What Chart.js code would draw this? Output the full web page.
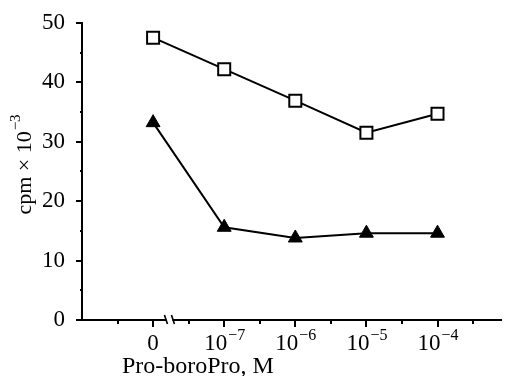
<!DOCTYPE html>
<html>
<head>
<meta charset="utf-8">
<script src="https://cdn.jsdelivr.net/npm/chart.js@4.4.0/dist/chart.umd.min.js"></script>
<style>
  html, body { margin: 0; padding: 0; background: #fff; }
  #wrap { width: 512px; height: 376px; }
</style>
</head>
<body>
<div id="wrap"><canvas id="grafico"></canvas></div>
<script>
// dados
const posicoesX = [0, 1, 2, 3, 4]
const rotulosX = ["0", "10", "10", "10", "10"]
const expoentesX = ["", "−7", "−6", "−5", "−4"]
const valoresQuadrado = [47.5, 42.2, 36.9, 31.5, 34.7]
const valoresTriangulo = [33.2, 15.6, 13.8, 14.6, 14.6]
const ticksY = [0, 10, 20, 30, 40, 50]
const ticksMenoresY = [5, 15, 25, 35, 45]
const ticksMenoresX = [-0.5, 0.5, 1.5, 2.5, 3.5, 4.5]
const tituloX = "Pro-boroPro, M"

const FONTE = "'Liberation Serif', 'Times New Roman', serif"

function pontos(valores) {
  return posicoesX.map((x, i) => ({ x: x, y: valores[i] }))
}

// desenha ticks, rótulos do eixo x com expoente, títulos e a quebra do eixo
const pluginEixos = {
  id: "eixos",
  afterDraw(chart) {
    const ctx = chart.ctx
    const sx = chart.scales.x
    const sy = chart.scales.y
    const x0 = sx.left
    const y0 = sy.bottom
    ctx.save()
    ctx.strokeStyle = "#000"
    ctx.lineWidth = 2
    ctx.beginPath()
    for (const v of ticksY) {
      const py = Math.round(sy.getPixelForValue(v))
      ctx.moveTo(x0 - 6, py)
      ctx.lineTo(x0, py)
    }
    for (const v of ticksMenoresY) {
      const py = Math.round(sy.getPixelForValue(v))
      ctx.moveTo(x0 - 2, py)
      ctx.lineTo(x0 + 1, py)
    }
    for (const v of posicoesX) {
      const px = Math.round(sx.getPixelForValue(v))
      ctx.moveTo(px, y0)
      ctx.lineTo(px, y0 + 7)
    }
    for (const v of ticksMenoresX) {
      const px = Math.round(sx.getPixelForValue(v))
      ctx.moveTo(px, y0)
      ctx.lineTo(px, y0 + 4)
    }
    ctx.stroke()

    // quebra do eixo
    const pq = sx.getPixelForValue(0.23)
    ctx.fillStyle = "#fff"
    ctx.fillRect(pq - 3, y0 - 3, 6, 6)
    ctx.lineWidth = 1.6
    ctx.beginPath()
    ctx.moveTo(pq - 5, y0 - 5)
    ctx.lineTo(pq - 2, y0 + 4)
    ctx.moveTo(pq + 2, y0 - 5)
    ctx.lineTo(pq + 5, y0 + 4)
    ctx.stroke()

    // rótulos do eixo x
    ctx.fillStyle = "#000"
    ctx.textBaseline = "alphabetic"
    const yBase = y0 + 30
    posicoesX.forEach((v, i) => {
      const px = sx.getPixelForValue(v)
      ctx.font = "23px " + FONTE
      const wBase = ctx.measureText(rotulosX[i]).width
      ctx.font = "16px " + FONTE
      const wExp = ctx.measureText(expoentesX[i]).width
      const inicio = px - (wBase + wExp) / 2
      ctx.font = "23px " + FONTE
      ctx.textAlign = "left"
      ctx.fillText(rotulosX[i], inicio, yBase)
      if (expoentesX[i]) {
        ctx.font = "16px " + FONTE
        ctx.fillText(expoentesX[i], inicio + wBase + 1, yBase - 10)
      }
    })

    // título do eixo x
    ctx.textAlign = "center"
    ctx.font = "24px " + FONTE
    ctx.fillText(tituloX, sx.getPixelForValue(0.63), y0 + 53)

    // título do eixo y
    ctx.translate(25, 165)
    ctx.rotate(-Math.PI / 2)
    ctx.font = "22px " + FONTE
    const parteA = "cpm × 10"
    const parteB = "−3"
    const wA = ctx.measureText(parteA).width
    ctx.font = "15px " + FONTE
    const wB = ctx.measureText(parteB).width
    ctx.textAlign = "left"
    ctx.textBaseline = "middle"
    ctx.font = "22px " + FONTE
    ctx.fillText(parteA, -(wA + wB) / 2, 0)
    ctx.font = "15px " + FONTE
    ctx.fillText(parteB, -(wA + wB) / 2 + wA + 1, -9)
    ctx.restore()
  },
}

new Chart(document.getElementById("grafico"), {
  type: "line",
  data: {
    datasets: [
      {
        label: "quadrado",
        data: pontos(valoresQuadrado),
        borderColor: "#000",
        borderWidth: 2,
        pointStyle: "rect",
        pointRadius: 8.5,
        pointBorderWidth: 2,
        pointBackgroundColor: "#fff",
        pointBorderColor: "#000",
        tension: 0,
      },
      {
        label: "triangulo",
        data: pontos(valoresTriangulo),
        borderColor: "#000",
        borderWidth: 2,
        pointStyle: "triangle",
        pointRadius: 8,
        pointBorderWidth: 1,
        pointBackgroundColor: "#000",
        pointBorderColor: "#000",
        tension: 0,
      },
    ],
  },
  options: {
    responsive: true,
    maintainAspectRatio: false,
    animation: false,
    layout: { padding: { top: 21, right: 0, left: 0, bottom: 0 } },
    plugins: {
      legend: { display: false },
      tooltip: { enabled: false },
    },
    scales: {
      x: {
        type: "linear",
        min: -1,
        max: 4.9,
        grid: { display: false },
        border: { display: true, color: "#000", width: 2 },
        ticks: { display: false },
        afterFit(scale) { scale.height = 56 },
      },
      y: {
        type: "linear",
        min: 0,
        max: 50,
        grid: { display: false },
        border: { display: true, color: "#000", width: 2 },
        afterBuildTicks(scale) { scale.ticks = ticksY.map(v => ({ value: v })) },
        ticks: {
          color: "#000",
          padding: 9,
          font: { family: FONTE, size: 23 },
        },
        afterFit(scale) { scale.width = 82 },
      },
    },
  },
  plugins: [pluginEixos],
})
</script>
</body>
</html>
